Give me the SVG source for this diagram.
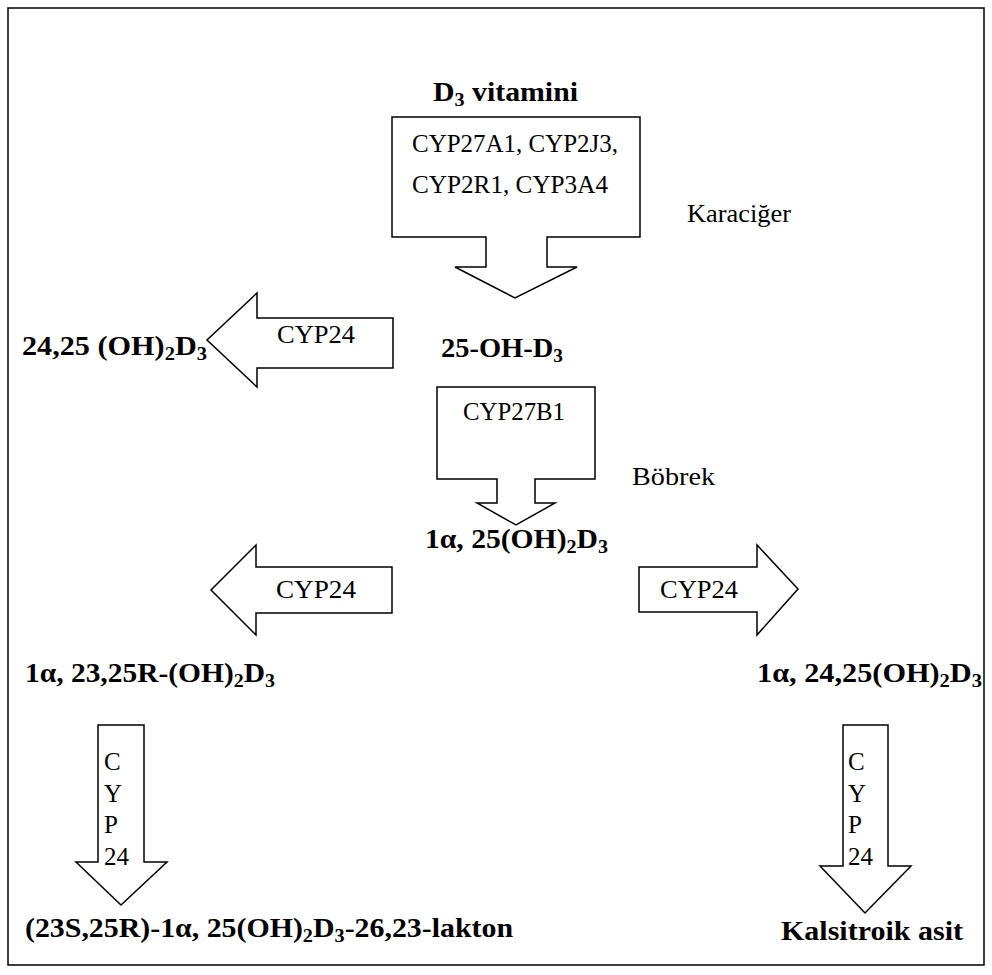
<svg xmlns="http://www.w3.org/2000/svg" width="992" height="975" viewBox="0 0 992 975">
<style>
.b{font-family:"Liberation Serif","Times New Roman",serif;font-weight:bold;font-size:28px;fill:#000}
.r{font-family:"Liberation Serif","Times New Roman",serif;font-size:25px;fill:#000}
.s{font-size:19px}
.ar{fill:#fff;stroke:#000;stroke-width:1.5;stroke-linejoin:miter}
</style>
<rect x="8" y="8" width="976" height="957" fill="#fff" stroke="#000" stroke-width="1.5"/>
<g id="connectors">
<g id="arrow-liver"><polygon class="ar" points="392,117 640,117 640,237 547,237 547,267 577,267 515,298 455,267 486,267 486,237 392,237"/>
<text class="r" x="412" y="152" textLength="206" lengthAdjust="spacingAndGlyphs">CYP27A1, CYP2J3,</text>
<text class="r" x="412" y="193" textLength="196" lengthAdjust="spacingAndGlyphs">CYP2R1, CYP3A4</text></g>
<g id="arrow-24-25"><polygon class="ar" points="393,318 257,318 257,293 207,340 257,387 257,368 393,368"/>
<text class="r" x="277" y="343" textLength="78" lengthAdjust="spacingAndGlyphs">CYP24</text></g>
<g id="arrow-kidney"><polygon class="ar" points="437,387 595,387 595,479 535,479 535,503 555,503 516,525 477,503 497,503 497,479 437,479"/>
<text class="r" x="463" y="420" textLength="102" lengthAdjust="spacingAndGlyphs">CYP27B1</text></g>
<g id="arrow-left-mid"><polygon class="ar" points="392,567 256,567 256,545 211,590 256,635 256,613 392,613"/>
<text class="r" x="276" y="598" textLength="80" lengthAdjust="spacingAndGlyphs">CYP24</text></g>
<g id="arrow-right-mid"><polygon class="ar" points="639,567 757,567 757,545 798,589 757,635 757,612 639,612"/>
<text class="r" x="660" y="598" textLength="78" lengthAdjust="spacingAndGlyphs">CYP24</text></g>
<g id="arrow-down-left"><polygon class="ar" points="98,725 144,725 144,862 167,862 121,905 76,862 98,862"/>
<text class="r" x="104" y="770">C</text><text class="r" x="104" y="802">Y</text><text class="r" x="104" y="833">P</text><text class="r" x="104" y="865">24</text></g>
<g id="arrow-down-right"><polygon class="ar" points="843,725 888,725 888,866 911,866 865,913 820,866 843,866"/>
<text class="r" x="848" y="770">C</text><text class="r" x="848" y="802">Y</text><text class="r" x="848" y="833">P</text><text class="r" x="848" y="865">24</text></g>
</g>
<g id="d3"><text class="b" x="433" y="101" textLength="145" lengthAdjust="spacingAndGlyphs">D<tspan class="s" dy="5">3</tspan><tspan dy="-5"> vitamini</tspan></text></g>
<g id="karaciger"><text class="r" x="687" y="222" textLength="104" lengthAdjust="spacingAndGlyphs">Karaciğer</text></g>
<g id="oh-24-25"><text class="b" x="22" y="355" textLength="185" lengthAdjust="spacingAndGlyphs">24,25 (OH)<tspan class="s" dy="5">2</tspan><tspan dy="-5">D</tspan><tspan class="s" dy="5">3</tspan></text></g>
<g id="oh-25"><text class="b" x="441" y="357" textLength="122" lengthAdjust="spacingAndGlyphs">25-OH-D<tspan class="s" dy="5">3</tspan></text></g>
<g id="bobrek"><text class="r" x="632" y="485" textLength="83" lengthAdjust="spacingAndGlyphs">Böbrek</text></g>
<g id="calcitriol"><text class="b" x="425" y="548" textLength="183" lengthAdjust="spacingAndGlyphs">1α, 25(OH)<tspan class="s" dy="5">2</tspan><tspan dy="-5">D</tspan><tspan class="s" dy="5">3</tspan></text></g>
<g id="oh-23-25"><text class="b" x="25" y="682" textLength="250" lengthAdjust="spacingAndGlyphs">1α, 23,25R-(OH)<tspan class="s" dy="5">2</tspan><tspan dy="-5">D</tspan><tspan class="s" dy="5">3</tspan></text></g>
<g id="oh-24-25-1a"><text class="b" x="757" y="682" textLength="225" lengthAdjust="spacingAndGlyphs">1α, 24,25(OH)<tspan class="s" dy="5">2</tspan><tspan dy="-5">D</tspan><tspan class="s" dy="5">3</tspan></text></g>
<g id="lakton"><text class="b" x="25" y="937" textLength="488" lengthAdjust="spacingAndGlyphs">(23S,25R)-1α, 25(OH)<tspan class="s" dy="5">2</tspan><tspan dy="-5">D</tspan><tspan class="s" dy="5">3</tspan><tspan dy="-5">-26,23-lakton</tspan></text></g>
<g id="kalsitroik"><text class="b" x="781" y="940" textLength="182" lengthAdjust="spacingAndGlyphs">Kalsitroik asit</text></g>
</svg>
